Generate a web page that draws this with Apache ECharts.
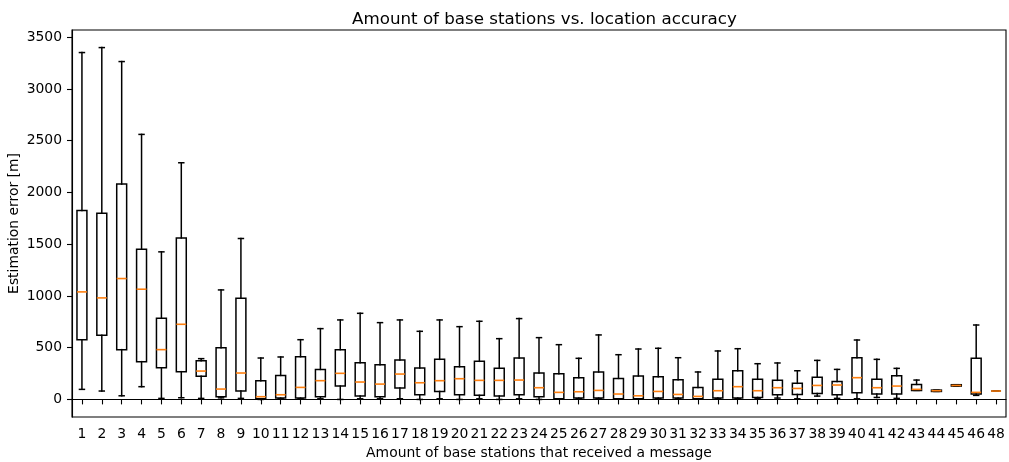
<!DOCTYPE html>
<html>
<head>
<meta charset="utf-8">
<script src="https://cdn.jsdelivr.net/npm/echarts@6/dist/echarts.min.js"></script>
<style>
  html, body { margin: 0; padding: 0; background: #fff; }
  #chart { width: 1009px; height: 462px; }
</style>
</head>
<body>
<div id="chart"></div>
<script>
// Number of base stations that received a message
const categories = ['1','2','3','4','5','6','7','8','9','10','11','12','13','14','15','16',
  '17','18','19','20','21','22','23','24','25','26','27','28','29','30','31','32',
  '33','34','35','36','37','38','39','40','41','42','43','44','45','46','48'];

// Box statistics of the estimation error [m] per category
const whiskerLow = [97, 81, 35, 123, 10, 16, 10, 15, 10, 0, 6, 6, 6, 0, 6, 6,
  6, 0, 6, 0, 6, 0, 6, 0, 3, 6, 6, 3, 3, 6, 6, 3,
  6, 6, 6, 13, 6, 32, 10, 6, 19, 10, 87, 77, 129, 39, 81];
const q1 = [577, 619, 481, 365, 306, 268, 223, 25, 81, 6, 13, 13, 26, 129, 32, 26,
  110, 45, 77, 45, 39, 32, 45, 26, 6, 13, 13, 6, 6, 13, 13, 6,
  13, 13, 19, 45, 48, 58, 45, 65, 52, 52, 87, 77, 129, 52, 81];
const median = [1039, 981, 1168, 1065, 481, 726, 274, 100, 255, 26, 45, 116, 181, 252, 168, 148,
  245, 161, 181, 200, 184, 184, 187, 113, 68, 74, 87, 52, 35, 77, 48, 29,
  84, 123, 84, 113, 106, 135, 139, 210, 113, 129, 97, 84, 135, 68, 81];
const q3 = [1826, 1800, 2081, 1452, 784, 1561, 374, 500, 977, 181, 232, 413, 290, 481, 355, 335,
  381, 303, 387, 316, 368, 300, 400, 255, 248, 210, 265, 203, 226, 219, 190, 116,
  194, 277, 194, 184, 155, 213, 174, 403, 194, 229, 145, 90, 142, 397, 81];
const whiskerHigh = [3352, 3400, 3265, 2561, 1426, 2287, 394, 1058, 1555, 400, 410, 577, 684, 768, 832, 742,
  768, 658, 768, 703, 755, 587, 781, 597, 529, 397, 623, 432, 487, 494, 403, 265,
  468, 490, 345, 352, 277, 377, 290, 574, 387, 300, 187, 90, 142, 719, 81];

const yTicks = [0, 500, 1000, 1500, 2000, 2500, 3000, 3500];

const boxData = categories.map((c, i) =>
  [i, whiskerLow[i], q1[i], median[i], q3[i], whiskerHigh[i]]);

const FONT = 'DejaVu Sans';
const LW = 1.5;

function renderBox(params, api) {
  const x = api.value(0);
  const band = api.size([1, 0])[0];
  const halfBox = band * 0.25;
  const halfCap = band * 0.125;
  const pLow = api.coord([x, api.value(1)]);
  const pQ1 = api.coord([x, api.value(2)]);
  const pMed = api.coord([x, api.value(3)]);
  const pQ3 = api.coord([x, api.value(4)]);
  const pHigh = api.coord([x, api.value(5)]);
  const cx = pMed[0];
  const black = { stroke: '#000', lineWidth: LW, lineCap: 'square', fill: 'none' };
  const seg = (x1, y1, x2, y2, style) => ({
    type: 'line', shape: { x1, y1, x2, y2 }, style
  });
  return {
    type: 'group',
    children: [
      seg(cx, pQ1[1], cx, pLow[1], black),
      seg(cx, pQ3[1], cx, pHigh[1], black),
      seg(cx - halfCap, pLow[1], cx + halfCap, pLow[1], black),
      seg(cx - halfCap, pHigh[1], cx + halfCap, pHigh[1], black),
      {
        type: 'rect',
        shape: { x: cx - halfBox, y: pQ3[1], width: halfBox * 2, height: pQ1[1] - pQ3[1] },
        style: { stroke: '#000', lineWidth: LW, fill: 'none', lineJoin: 'miter' }
      },
      seg(cx - halfBox, pMed[1], cx + halfBox, pMed[1],
        { stroke: '#ff7f0e', lineWidth: 1.6, fill: 'none' })
    ]
  };
}

const chart = echarts.init(document.getElementById('chart'), null, { renderer: 'canvas' });
chart.setOption({
  animation: false,
  backgroundColor: '#fff',
  title: {
    text: 'Amount of base stations vs. location accuracy',
    left: 347,
    top: 6,
    textStyle: { fontFamily: FONT, fontSize: 16.7, fontWeight: 'normal', color: '#000' }
  },
  grid: {
    left: 72, top: 30, width: 934, height: 387,
    containLabel: false,
    outerBoundsMode: 'none',
    show: true, borderColor: '#000', borderWidth: 1.1, backgroundColor: 'transparent'
  },
  xAxis: {
    type: 'category',
    data: categories,
    boundaryGap: true,
    name: 'Amount of base stations that received a message',
    nameLocation: 'middle',
    nameGap: 29,
    nameMoveOverlap: false,
    nameTextStyle: { fontFamily: FONT, fontSize: 13.9, color: '#000' },
    axisLine: { show: true, lineStyle: { color: '#000', width: 1.1 } },
    axisTick: { show: true, alignWithLabel: true, length: 5, lineStyle: { color: '#000', width: 1.1 } },
    axisLabel: { interval: 0, margin: 10, fontFamily: FONT, fontSize: 13.9, color: '#000' },
    splitLine: { show: false }
  },
  yAxis: {
    type: 'value',
    min: -170,
    max: 3570,
    name: 'Estimation error [m]',
    nameLocation: 'middle',
    nameGap: 51,
    nameMoveOverlap: false,
    nameTextStyle: { fontFamily: FONT, fontSize: 13.9, color: '#000' },
    axisLine: { show: true, lineStyle: { color: '#000', width: 1.1 } },
    axisTick: { show: true, length: 5, customValues: yTicks, lineStyle: { color: '#000', width: 1.1 } },
    axisLabel: {
      margin: 10, customValues: yTicks, fontFamily: FONT, fontSize: 13.9, color: '#000',
      formatter: v => String(v)
    },
    splitLine: { show: false }
  },
  series: [{
    type: 'custom',
    renderItem: renderBox,
    encode: { x: 0, y: [1, 2, 3, 4, 5] },
    data: boxData,
    clip: false
  }]
});
</script>
</body>
</html>
